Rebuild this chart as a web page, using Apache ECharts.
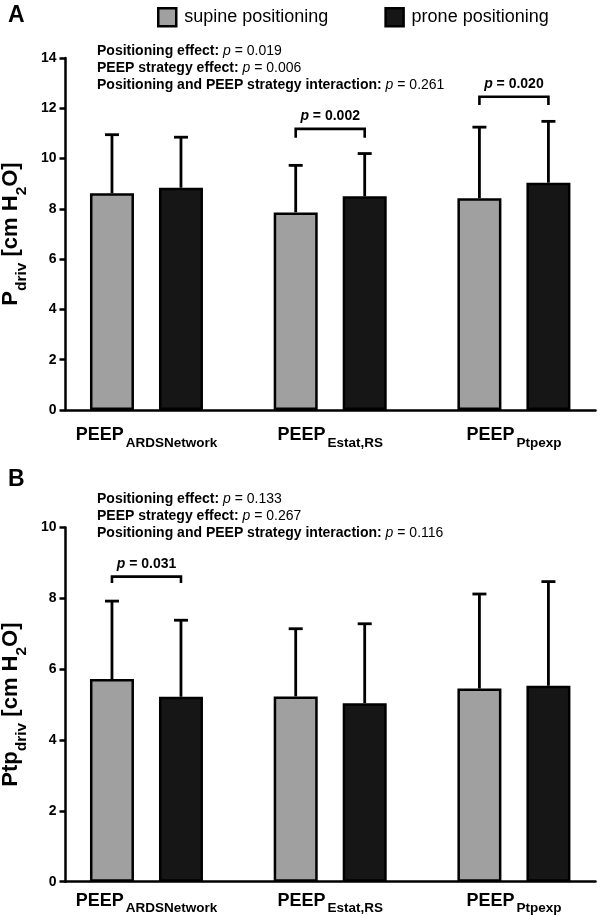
<!DOCTYPE html>
<html><head><meta charset="utf-8">
<script src="https://cdn.jsdelivr.net/npm/echarts@6/dist/echarts.min.js"></script>
<style>html,body{margin:0;padding:0;background:#fff}#c{width:597px;height:916px}</style>
</head><body><div id="c"></div>
<script>
// ---------- data ----------
const categories = ['ARDSNetwork', 'Estat,RS', 'Ptpexp'];
const seriesNames = ['supine positioning', 'prone positioning'];
// Panel A: P_driv [cm H2O]
const pdrivSupineMean = [8.62, 7.86, 8.42];
const pdrivSupineSD   = [2.33, 1.87, 2.83];
const pdrivProneMean  = [8.84, 8.50, 9.04];
const pdrivProneSD    = [2.01, 1.70, 2.44];
// Panel B: Ptp_driv [cm H2O]
const ptpSupineMean = [5.72, 5.23, 5.45];
const ptpSupineSD   = [2.20, 1.91, 2.67];
const ptpProneMean  = [5.22, 5.04, 5.53];
const ptpProneSD    = [2.16, 2.24, 2.94];
// axis ticks
const yTicksA = [0, 2, 4, 6, 8, 10, 12, 14];
const yTicksB = [0, 2, 4, 6, 8, 10];
// pairwise comparisons: category index, bracket level, tick end, p-value
const bracketsA = [[1, 11.18, 10.83, '0.002'], [2, 12.46, 12.13, '0.020']];
const bracketsB = [[0, 8.61, 8.43, '0.031']];
// global tests
const statsA = [['Positioning effect: ', '0.019'], ['PEEP strategy effect: ', '0.006'], ['Positioning and PEEP strategy interaction: ', '0.261']];
const statsB = [['Positioning effect: ', '0.133'], ['PEEP strategy effect: ', '0.267'], ['Positioning and PEEP strategy interaction: ', '0.116']];

// ---------- style ----------
const FONT = '"Liberation Sans", Arial, Helvetica, sans-serif';
const GRAY = '#a0a0a0', BLACK = '#161616';
const BAR_W = 44, BAR_GAP = 25;
const HALF = (BAR_W + BAR_GAP) / 2;
const LW = 2.5;

const chart = echarts.init(document.getElementById('c'), null, {renderer: 'canvas'});

function xAxisFor(gi, margin) {
  return {
    type: 'value', gridIndex: gi, min: -0.4407, max: 2.444,
    splitLine: {show: false},
    axisTick: {show: false},
    axisLine: {show: true, onZero: false, lineStyle: {color: '#000', width: LW}},
    axisLabel: {
      customValues: [0, 1, 2], margin: margin,
      formatter: v => '{b|PEEP}{s|' + categories[Math.round(v)] + '}',
      rich: {
        b: {fontFamily: FONT, fontWeight: 'bold', fontSize: 18, color: '#000', lineHeight: 18, verticalAlign: 'top'},
        s: {fontFamily: FONT, fontWeight: 'bold', fontSize: 13.5, color: '#000', lineHeight: 24, verticalAlign: 'bottom', padding: [0, 0, 0, 2]}
      }
    }
  };
}
function yAxisFor(gi, ticks, nameMain) {
  return {
    type: 'value', gridIndex: gi, min: ticks[0], max: ticks[ticks.length - 1], interval: ticks[1] - ticks[0],
    splitLine: {show: false},
    axisLine: {show: true, onZero: false, lineStyle: {color: '#000', width: LW}},
    axisTick: {show: true, length: 6, lineStyle: {color: '#000', width: LW}},
    axisLabel: {fontFamily: FONT, fontWeight: 'bold', fontSize: 14, color: '#000', margin: 9},
    name: '{b|' + nameMain + '}{s|driv}{b| [cm H}{s|2}{b|O]}',
    nameLocation: 'middle', nameGap: 30,
    nameTextStyle: {
      rich: {
        b: {fontFamily: FONT, fontWeight: 'bold', fontSize: 22, color: '#000', lineHeight: 22, verticalAlign: 'top'},
        s: {fontFamily: FONT, fontWeight: 'bold', fontSize: 15.5, color: '#000', lineHeight: 30, verticalAlign: 'bottom'}
      }
    }
  };
}
function barSeries(name, gi, means, color) {
  return {
    type: 'bar', name: name, xAxisIndex: gi, yAxisIndex: gi,
    barWidth: BAR_W, barGap: (BAR_GAP / BAR_W * 100) + '%',
    data: means.map((m, i) => [i, m]),
    itemStyle: {color: color, borderColor: '#000', borderWidth: LW},
    emphasis: {disabled: true}, z: 2
  };
}
function errSeries(gi, means, sds, offset) {
  return {
    type: 'custom', xAxisIndex: gi, yAxisIndex: gi, z: 3, silent: true,
    data: means.map((m, i) => [i, m, sds[i]]),
    renderItem: function (params, api) {
      const x = api.value(0), m = api.value(1), sd = api.value(2);
      const p0 = api.coord([x, m]), p1 = api.coord([x, m + sd]);
      const cx = p0[0] + offset;
      return {type: 'group', children: [
        {type: 'line', shape: {x1: cx, y1: p0[1], x2: cx, y2: p1[1]}, style: {stroke: '#000', lineWidth: 2.8}},
        {type: 'line', shape: {x1: cx - 7, y1: p1[1], x2: cx + 7, y2: p1[1]}, style: {stroke: '#000', lineWidth: 2.8}}
      ]};
    }
  };
}
function bracketSeries(gi, brackets) {
  return {
    type: 'custom', xAxisIndex: gi, yAxisIndex: gi, z: 4, silent: true,
    data: brackets.map(b => [b[0], b[1], b[2]]),
    renderItem: function (params, api) {
      const x = api.value(0), yl = api.value(1), ye = api.value(2);
      const pl = api.coord([x, yl]), pe = api.coord([x, ye]);
      const xa = pl[0] - HALF, xb = pl[0] + HALF;
      return {type: 'group', children: [
        {type: 'polyline', shape: {points: [[xa, pe[1]], [xa, pl[1]], [xb, pl[1]], [xb, pe[1]]]},
          style: {stroke: '#000', lineWidth: 2.6, fill: null}},
        {type: 'text', x: pl[0], y: pl[1] - 6, style: {
          text: '{i|p}{b| = ' + brackets[params.dataIndex][3] + '}',
          align: 'center', verticalAlign: 'bottom',
          rich: {
            i: {fontFamily: FONT, fontWeight: 'bold', fontStyle: 'italic', fontSize: 14, fill: '#000'},
            b: {fontFamily: FONT, fontWeight: 'bold', fontSize: 14, fill: '#000'}
          }
        }}
      ]};
    }
  };
}
function statTexts(stats, top0) {
  return stats.map((s, k) => ({
    type: 'text', left: 97, top: top0 + k * 17,
    style: {
      text: '{b|' + s[0] + '}{i|p}{n| = ' + s[1] + '}',
      rich: {
        b: {fontFamily: FONT, fontWeight: 'bold', fontSize: 14, fill: '#000'},
        i: {fontFamily: FONT, fontStyle: 'italic', fontSize: 14, fill: '#000'},
        n: {fontFamily: FONT, fontSize: 14, fill: '#000'}
      }
    }
  }));
}

const option = {
  backgroundColor: '#fff',
  animation: false,
  textStyle: {fontFamily: FONT},
  legend: {
    data: seriesNames, left: 157, top: 7, padding: 0, itemWidth: 18, itemHeight: 18, itemGap: 56,
    icon: 'rect', selectedMode: false,
    itemStyle: {borderColor: '#000', borderWidth: LW},
    textStyle: {fontFamily: FONT, fontSize: 18, color: '#000', padding: [0, 0, 0, 3]}
  },
  grid: [
    {left: 65.5, top: 58, width: 530, height: 352, outerBoundsMode: 'none', containLabel: false},
    {left: 65.5, top: 527.4, width: 530, height: 354.3, outerBoundsMode: 'none', containLabel: false}
  ],
  xAxis: [xAxisFor(0, 16), xAxisFor(1, 10)],
  yAxis: [yAxisFor(0, yTicksA, 'P'), yAxisFor(1, yTicksB, 'Ptp')],
  series: [
    barSeries(seriesNames[0], 0, pdrivSupineMean, GRAY),
    barSeries(seriesNames[1], 0, pdrivProneMean, BLACK),
    barSeries(seriesNames[0], 1, ptpSupineMean, GRAY),
    barSeries(seriesNames[1], 1, ptpProneMean, BLACK),
    errSeries(0, pdrivSupineMean, pdrivSupineSD, -HALF),
    errSeries(0, pdrivProneMean, pdrivProneSD, HALF),
    errSeries(1, ptpSupineMean, ptpSupineSD, -HALF),
    errSeries(1, ptpProneMean, ptpProneSD, HALF),
    bracketSeries(0, bracketsA),
    bracketSeries(1, bracketsB)
  ],
  graphic: [
    {type: 'text', left: 8, top: 4, style: {text: 'A', fontFamily: FONT, fontWeight: 'bold', fontSize: 23, fill: '#000'}},
    {type: 'text', left: 8, top: 468, style: {text: 'B', fontFamily: FONT, fontWeight: 'bold', fontSize: 23, fill: '#000'}}
  ].concat(statTexts(statsA, 44)).concat(statTexts(statsB, 492))
};
chart.setOption(option);
</script>
</body></html>
